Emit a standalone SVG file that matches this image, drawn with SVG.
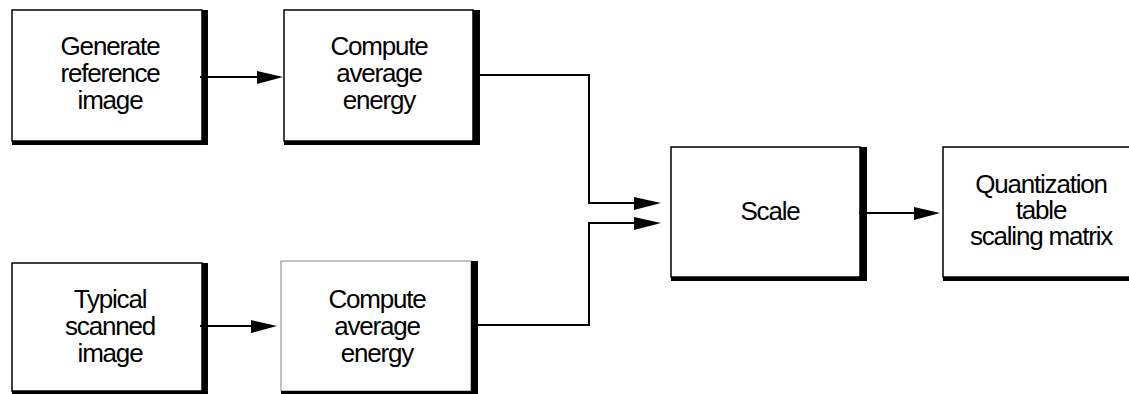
<svg xmlns="http://www.w3.org/2000/svg" width="1129" height="394" viewBox="0 0 1129 394">
<style>
.box{fill:#fff;stroke:#000;stroke-width:1.5}
.shade{fill:#000}
.lbl{font-family:"Liberation Sans",Arial,sans-serif;font-size:26px;letter-spacing:-1.2px;text-anchor:middle;fill:#000}
.wire{fill:none;stroke:#000;stroke-width:2}
.head{fill:#000}
</style>
<rect width="1129" height="394" fill="#fff"/>
<g id="n_generate">
<rect class="box" x="12" y="10" width="190" height="131"/>
<polygon class="shade" points="202,10 208,10 208,145 12,145 12,141 202,141"/>
<text class="lbl" x="110" y="55">Generate</text>
<text class="lbl" x="110" y="82">reference</text>
<text class="lbl" x="110" y="109">image</text>
</g>
<g id="n_compute1">
<rect class="box" x="284" y="10" width="189" height="131"/>
<polygon class="shade" points="473,10 480,10 480,145 284,145 284,141 473,141"/>
<text class="lbl" x="379" y="55">Compute</text>
<text class="lbl" x="379" y="82">average</text>
<text class="lbl" x="379" y="109">energy</text>
</g>
<g id="n_typical">
<rect class="box" x="12" y="263" width="190" height="128"/>
<polygon class="shade" points="202,263 208,263 208,396 12,396 12,391 202,391"/>
<text class="lbl" x="110" y="308">Typical</text>
<text class="lbl" x="110" y="335">scanned</text>
<text class="lbl" x="110" y="362">image</text>
</g>
<g id="n_compute2">
<rect class="box" x="281" y="261" width="190" height="130" style="stroke:#888;stroke-width:1"/>
<polygon class="shade" points="471,261 478,261 478,396 281,396 281,391 471,391"/>
<text class="lbl" x="377" y="308">Compute</text>
<text class="lbl" x="377" y="335">average</text>
<text class="lbl" x="377" y="362">energy</text>
</g>
<g id="n_scale">
<rect class="box" x="671" y="147" width="189" height="130"/>
<polygon class="shade" points="860,147 867,147 867,281 671,281 671,277 860,277"/>
<text class="lbl" x="770" y="220">Scale</text>
</g>
<g id="n_quant">
<rect class="box" x="943" y="147" width="200" height="130"/>
<polygon class="shade" points="1143,147 1150,147 1150,281 943,281 943,277 1143,277"/>
<text class="lbl" x="1041" y="193">Quantization</text>
<text class="lbl" x="1041" y="219">table</text>
<text class="lbl" x="1041" y="245">scaling matrix</text>
</g>
<g id="connectors">
<path class="wire" d="M200,77 H260"/>
<polygon class="head" points="257,71 283,77 257,84"/>
<path class="wire" d="M200,326 H254"/>
<polygon class="head" points="251,320 277,326 251,333"/>
<path class="wire" d="M480,75 H589 V203 H637"/>
<polygon class="head" points="634,197 661,203 634,210"/>
<path class="wire" d="M478,325 H589 V223 H637"/>
<polygon class="head" points="634,217 661,223 634,230"/>
<path class="wire" d="M859,213 H917"/>
<polygon class="head" points="914,207 940,213 914,220"/>
</g>
</svg>
